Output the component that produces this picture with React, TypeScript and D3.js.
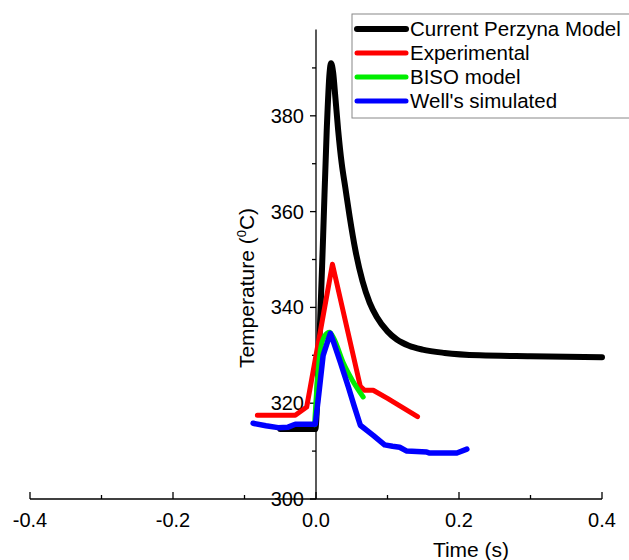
import React from "react";
import * as d3 from "d3";

const seriesNames = ["Current Perzyna Model", "Experimental", "BISO model", "Well's simulated"];
const seriesColors = ["#000000", "#ff0000", "#00ee00", "#0000ff"];

const perzynaT = [-0.05, -0.001, 0.004, 0.01, 0.015, 0.019, 0.021, 0.024, 0.027, 0.031, 0.036, 0.041, 0.047, 0.055, 0.065, 0.075, 0.085, 0.1, 0.113, 0.13, 0.149, 0.18, 0.229, 0.3, 0.40];
const perzynaV = [314.6, 314.6, 330, 355, 377, 389, 391, 389, 384, 377, 370, 365, 359, 352, 345.5, 341, 338, 335, 333.3, 332, 331.2, 330.5, 330, 329.8, 329.6];

const expT = [-0.082, -0.029, -0.013, 0.023, 0.062, 0.068, 0.080, 0.100, 0.142];
const expV = [317.5, 317.5, 319.2, 349, 323.5, 322.7, 322.7, 321.0, 317.2];

const bisoT = [-0.002, 0.002, 0.006, 0.012, 0.019, 0.025, 0.038, 0.052, 0.066];
const bisoV = [315.5, 325, 331, 334, 334.8, 333.5, 328.5, 324.5, 321.3];

const wellT = [-0.088, -0.07, -0.053, -0.039, -0.029, -0.001, 0.004, 0.01, 0.02, 0.024, 0.034, 0.045, 0.053, 0.062, 0.08, 0.096, 0.107, 0.117, 0.127, 0.155, 0.159, 0.197, 0.211];
const wellV = [315.8, 315.3, 314.9, 315.0, 315.6, 315.6, 322, 330, 334.6, 333, 328.6, 323.5, 319.6, 315.4, 313.3, 311.3, 311.0, 310.8, 310.0, 309.8, 309.6, 309.6, 310.4];

const xMajor = [-0.4, -0.2, 0.0, 0.2, 0.4];
const xMajorLabels = ["-0.4", "-0.2", "0.0", "0.2", "0.4"];
const xMinor = [-0.3, -0.1, 0.1, 0.3];
const yMajor = [300, 320, 340, 360, 380];
const yMinor = [310, 330, 350, 370, 390];

const FONT = "'Liberation Sans', Arial, sans-serif";

export default function App() {
  const x = d3.scaleLinear().domain([-0.4, 0.4]).range([30, 602]);
  const y = d3.scaleLinear().domain([300, 398]).range([499, 29.6]);

  const series = [
    { t: perzynaT, v: perzynaV, w: 6, curve: d3.curveMonotoneX },
    { t: expT, v: expV, w: 5, curve: d3.curveLinear },
    { t: bisoT, v: bisoV, w: 5, curve: d3.curveMonotoneX },
    { t: wellT, v: wellV, w: 5.5, curve: d3.curveLinear },
  ];

  const legendRows = [29, 53, 77, 101];

  return (
    <svg width={629} height={560} style={{ position: "absolute", left: 0, top: 0, background: "#fff" }}>
      <rect x={0} y={0} width={629} height={560} fill="#fff" />
      {/* x axis */}
      <line x1={x(-0.4)} x2={x(0.4)} y1={y(300)} y2={y(300)} stroke="#000" strokeWidth={1.3} />
      {xMajor.map((d) => (
        <line key={"xM" + d} x1={x(d)} x2={x(d)} y1={y(300)} y2={y(300) - 7} stroke="#000" strokeWidth={1.3} />
      ))}
      {xMinor.map((d) => (
        <line key={"xm" + d} x1={x(d)} x2={x(d)} y1={y(300)} y2={y(300) - 4} stroke="#000" strokeWidth={1.3} />
      ))}
      {xMajor.map((d, i) => (
        <text key={"xl" + d} x={x(d)} y={527} textAnchor="middle" fontFamily={FONT} fontSize={20} fill="#000">
          {xMajorLabels[i]}
        </text>
      ))}
      <text x={471} y={557} textAnchor="middle" fontFamily={FONT} fontSize={21} fill="#000">Time (s)</text>

      {/* y axis */}
      <line x1={x(0)} x2={x(0)} y1={y(300)} y2={y(398)} stroke="#000" strokeWidth={1.3} />
      {yMajor.map((d) => (
        <line key={"yM" + d} x1={x(0) - 6} x2={x(0)} y1={y(d)} y2={y(d)} stroke="#000" strokeWidth={1.3} />
      ))}
      {yMinor.map((d) => (
        <line key={"ym" + d} x1={x(0) - 4} x2={x(0)} y1={y(d)} y2={y(d)} stroke="#000" strokeWidth={1.3} />
      ))}
      {yMajor.map((d) => (
        <text key={"yl" + d} x={304} y={y(d) + 7} textAnchor="end" fontFamily={FONT} fontSize={20} fill="#000">
          {d}
        </text>
      ))}
      <text transform="translate(254,288) rotate(-90)" textAnchor="middle" fontFamily={FONT} fontSize={21} fill="#000">
        Temperature (<tspan fontSize={13} dy={-8}>0</tspan><tspan dy={8}>C)</tspan>
      </text>

      {/* data lines */}
      {series.map((s, i) => {
        const pts = s.t.map((t, j) => [t, s.v[j]] as [number, number]);
        const gen = d3.line<[number, number]>().x((p) => x(p[0])).y((p) => y(p[1])).curve(s.curve);
        return (
          <path key={"s" + i} d={gen(pts) || ""} fill="none" stroke={seriesColors[i]} strokeWidth={s.w}
            strokeLinejoin="round" strokeLinecap="round" />
        );
      })}

      {/* legend */}
      <rect x={352} y={14} width={290} height={104} fill="#fff" stroke="#888" strokeWidth={1} />
      {seriesNames.map((n, i) => (
        <g key={"lg" + i}>
          <line x1={357} x2={406} y1={legendRows[i]} y2={legendRows[i]} stroke={seriesColors[i]} strokeWidth={i === 0 ? 6 : 5} strokeLinecap="round" />
          <text x={410} y={legendRows[i] + 7} fontFamily={FONT} fontSize={20.5} fill="#000">{n}</text>
        </g>
      ))}
    </svg>
  );
}
